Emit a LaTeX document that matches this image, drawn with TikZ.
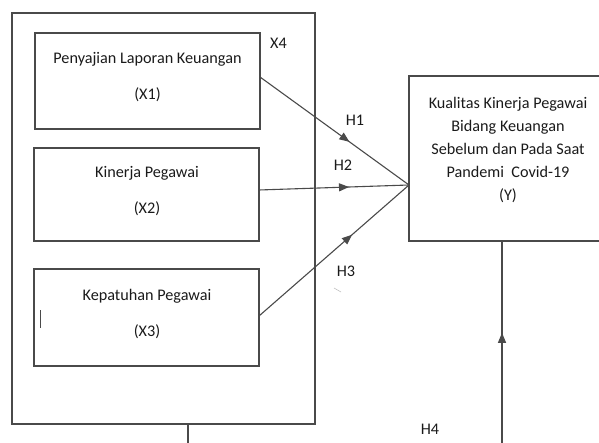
\documentclass[tikz,border=0pt]{standalone}
\usepackage{fontspec}
\setmainfont{Carlito}
\usetikzlibrary{decorations.markings,arrows.meta}
\definecolor{ln}{HTML}{4A4A4A}
\definecolor{tx}{HTML}{1A1A1A}
\begin{document}
\begin{tikzpicture}[x=1pt,y=-1pt,
  box/.style={draw=ln,line width=1.1pt},
  lbl/.style={text=tx,font=\fontsize{16.2}{19}\selectfont,inner sep=0pt},
  conn/.style={draw=ln,line width=1.1pt},
  midarrow/.style={postaction={decorate},decoration={markings,mark=at position #1 with {\arrow{Triangle[length=10pt,width=8pt]}}}}]
\useasboundingbox (0,0) rectangle (599,443);
\clip (0,0) rectangle (599,443);
% outer X4 box
\draw[box] (12,13) rectangle (315,424);
\node[lbl,anchor=west] (x4) at (270,43) {X4};
% inner boxes
\draw[box] (35,33) rectangle (260,129);
\coordinate (x1) at (260,77);
\node[lbl] (t1a) at (147.5,59) {Penyajian Laporan Keuangan};
\node[lbl] (t1b) at (147.5,95) {(X1)};
\draw[box] (34,148) rectangle (259,241);
\coordinate (x2) at (259,190);
\node[lbl] (t2a) at (147,173) {Kinerja Pegawai};
\node[lbl] (t2b) at (147,209) {(X2)};
\draw[box] (34,269) rectangle (259,366);
\coordinate (x3) at (259,316);
\node[lbl] (t3a) at (147,296) {Kepatuhan Pegawai};
\node[lbl] (t3b) at (147,332) {(X3)};
\draw[ln,line width=0.8pt] (40,310) -- (40,328);
% Y box
\draw[box] (409,76) rectangle (620,241);
\coordinate (y) at (409,185);
\node[lbl,align=center,font=\fontsize{16.2}{23}\selectfont] (ty) at (508,150.5)
  {Kualitas Kinerja Pegawai\\Bidang Keuangan\\Sebelum dan Pada Saat\\Pandemi\ \ Covid-19\\(Y)};
% connectors
\draw[conn,midarrow=0.6] (x1) -- (y);
\draw[conn,midarrow=0.6] (x2) -- (y);
\draw[conn,midarrow=0.62] (x3) -- (y);
\node[lbl] (h1) at (355,120) {H1};
\node[lbl] (h2) at (343,165) {H2};
\node[lbl] (h3) at (346,271) {H3};
\draw[gray!50,line width=0.6pt] (334,288) -- (341,292);
% H4 path
\coordinate (b1) at (188,445);
\coordinate (yb) at (502,241);
\coordinate (b2) at (502,445);
\draw[conn] (188,424) -- (b1);
\draw[conn,midarrow=0.55] (b2) -- (yb);
\node[lbl] (h4) at (430,429) {H4};
\end{tikzpicture}
\end{document}
